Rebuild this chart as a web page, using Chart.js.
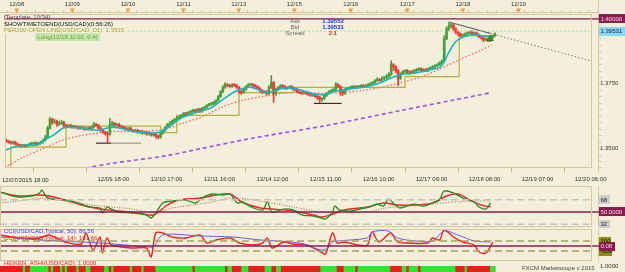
<!DOCTYPE html>
<html>
<head>
<meta charset="utf-8">
<title>USD/CAD H1</title>
<script src="https://cdn.jsdelivr.net/npm/chart.js@4.4.0/dist/chart.umd.min.js"></script>
<style>
  html, body { margin: 0; padding: 0; }
  body { width: 625px; height: 272px; background: #f4efdb; position: relative; overflow: hidden;
         font-family: "Liberation Sans", Arial, sans-serif; }
  canvas { position: absolute; left: 0; }
  .lbl { position: absolute; font-size: 6px; line-height: 7px; white-space: nowrap; }
</style>
</head>
<body>
<canvas id="mainChart" width="625" height="186" style="top:0"></canvas>
<canvas id="oscChart" width="625" height="44" style="top:184px"></canvas>
<canvas id="cciChart" width="625" height="34" style="top:228px"></canvas>
<canvas id="haChart" width="625" height="10" style="top:262px"></canvas>

<div class="lbl" style="left:4px;top:13.5px;color:#5b3a6b">[Template: 10/34]</div>
<div class="lbl" style="left:4px;top:20.5px;color:#111">SHOWTIMETOEND(USD/CAD)(0:56:26)</div>
<div class="lbl" style="left:4px;top:26.5px;color:#aaa22a;background:#f4efdb;padding-right:2px">PER200-OPEN LINE(USD/CAD, D1): 1.3935</div>
<div class="lbl" style="left:35px;top:32.5px;width:65px;height:8px;line-height:8px;background:#c6e6ae;color:#5c9c3e;text-align:center">Long(12/18 11:02, 0.4)</div>
<div class="lbl" style="left:275px;top:18px;width:40px;text-align:center;color:#666">Ask</div>
<div class="lbl" style="left:275px;top:23.5px;width:40px;text-align:center;color:#666">Bid</div>
<div class="lbl" style="left:275px;top:29.5px;width:40px;text-align:center;color:#666">Spread</div>
<div class="lbl" style="left:313px;top:18px;width:40px;text-align:center;color:#1c2cf0;font-weight:bold">1.39552</div>
<div class="lbl" style="left:313px;top:23.5px;width:40px;text-align:center;color:#1c2cf0;font-weight:bold">1.39531</div>
<div class="lbl" style="left:313px;top:29.5px;width:40px;text-align:center;color:#ee2020;font-weight:bold">2.1</div>
<div class="lbl" style="left:2px;top:176.5px;color:#333">12/07/2015 18:00</div>
<div class="lbl" style="left:4px;top:228px;color:#3a3aee">CCI(USD/CAD,Typical, 50): 86.56</div>
<div class="lbl" style="left:4px;top:235px;color:#ee2222">CCI(USD/CAD,Typical, 14): 101.66</div>
<div class="lbl" style="left:4px;top:259.5px;color:#ee2222">HEIKEN_ASHI(USD/CAD): 1.0000</div>
<div class="lbl" style="left:522px;top:264.5px;color:#444">FXCM Marketscope c 2015</div>
<div class="lbl" style="left:600px;top:262.5px;color:#333">1.0000</div>

<script>
// USD/CAD hourly candles (bar 0 = 12/07 18:00)
const firstOpen = 1.3531;
const closes = [
  1.3527,1.3523,1.3519,1.3523,1.3515, 1.3512,1.3508,1.3512,1.3508,1.3512,
  1.3515,1.3519,1.3519,1.3515,1.3519, 1.3523,1.3531,1.3542,1.3577,1.3612,
  1.3600,1.3604,1.3592,1.3596,1.3600, 1.3588,1.3585,1.3588,1.3581,1.3585,
  1.3581,1.3577,1.3581,1.3577,1.3573, 1.3577,1.3573,1.3581,1.3592,1.3588,
  1.3577,1.3569,1.3562,1.3558,1.3554, 1.3592,1.3596,1.3588,1.3592,1.3585,
  1.3581,1.3577,1.3573,1.3577,1.3569, 1.3565,1.3569,1.3562,1.3565,1.3558,
  1.3562,1.3554,1.3558,1.3550,1.3554, 1.3546,1.3542,1.3558,1.3569,1.3581,
  1.3592,1.3596,1.3604,1.3612,1.3615, 1.3619,1.3627,1.3635,1.3631,1.3638,
  1.3642,1.3646,1.3642,1.3650,1.3642, 1.3654,1.3658,1.3665,1.3669,1.3673,
  1.3673,1.3685,1.3700,1.3719,1.3735, 1.3746,1.3742,1.3738,1.3746,1.3742,
  1.3735,1.3719,1.3715,1.3727,1.3738, 1.3746,1.3746,1.3742,1.3738,1.3731,
  1.3723,1.3715,1.3719,1.3712,1.3735, 1.3754,1.3712,1.3727,1.3735,1.3742,
  1.3738,1.3731,1.3735,1.3738,1.3731, 1.3727,1.3719,1.3715,1.3712,1.3715,
  1.3712,1.3708,1.3704,1.3708,1.3700, 1.3696,1.3688,1.3692,1.3704,1.3712,
  1.3719,1.3723,1.3727,1.3746,1.3738, 1.3719,1.3712,1.3727,1.3731,1.3735,
  1.3738,1.3735,1.3738,1.3738,1.3742, 1.3738,1.3742,1.3746,1.3750,1.3754,
  1.3762,1.3765,1.3762,1.3769,1.3773, 1.3777,1.3785,1.3823,1.3815,1.3800,
  1.3769,1.3788,1.3796,1.3800,1.3792, 1.3796,1.3792,1.3800,1.3804,1.3808,
  1.3800,1.3804,1.3800,1.3808,1.3811, 1.3815,1.3819,1.3823,1.3831,1.3838,
  1.3923,1.3962,1.3973,1.3977,1.3962, 1.3950,1.3942,1.3935,1.3938,1.3942,
  1.3946,1.3950,1.3942,1.3946,1.3938, 1.3931,1.3927,1.3919,1.3923,1.3915,
  1.3927,1.3935,1.3942
];
const highs = [
  1.3535,1.3531,1.3527,1.3527,1.3527, 1.3519,1.3515,1.3515,1.3515,1.3515,
  1.3519,1.3523,1.3523,1.3523,1.3523, 1.3527,1.3535,1.3550,1.3585,1.3619,
  1.3615,1.3612,1.3608,1.3604,1.3608, 1.3604,1.3592,1.3592,1.3592,1.3588,
  1.3588,1.3585,1.3585,1.3585,1.3581, 1.3581,1.3581,1.3585,1.3600,1.3596,
  1.3592,1.3581,1.3573,1.3565,1.3562, 1.3615,1.3604,1.3600,1.3596,1.3596,
  1.3588,1.3585,1.3581,1.3581,1.3581, 1.3573,1.3573,1.3573,1.3569,1.3569,
  1.3565,1.3565,1.3562,1.3562,1.3558, 1.3558,1.3550,1.3562,1.3573,1.3585,
  1.3596,1.3604,1.3608,1.3615,1.3623, 1.3627,1.3631,1.3638,1.3638,1.3642,
  1.3646,1.3650,1.3650,1.3654,1.3654, 1.3658,1.3662,1.3669,1.3673,1.3677,
  1.3681,1.3688,1.3704,1.3723,1.3742, 1.3754,1.3750,1.3746,1.3750,1.3750,
  1.3746,1.3738,1.3723,1.3731,1.3742, 1.3750,1.3750,1.3750,1.3746,1.3742,
  1.3735,1.3727,1.3723,1.3723,1.3742, 1.3781,1.3758,1.3731,1.3738,1.3746,
  1.3746,1.3742,1.3738,1.3742,1.3742, 1.3735,1.3731,1.3723,1.3719,1.3719,
  1.3719,1.3715,1.3712,1.3712,1.3712, 1.3704,1.3700,1.3696,1.3708,1.3715,
  1.3723,1.3727,1.3731,1.3754,1.3750, 1.3742,1.3727,1.3731,1.3735,1.3738,
  1.3742,1.3742,1.3742,1.3742,1.3746, 1.3746,1.3746,1.3750,1.3754,1.3758,
  1.3765,1.3773,1.3769,1.3777,1.3777, 1.3785,1.3792,1.3838,1.3827,1.3819,
  1.3804,1.3792,1.3800,1.3804,1.3804, 1.3800,1.3800,1.3804,1.3808,1.3811,
  1.3811,1.3808,1.3808,1.3811,1.3815, 1.3819,1.3823,1.3827,1.3834,1.3842,
  1.3935,1.3969,1.3985,1.3985,1.3981, 1.3965,1.3954,1.3946,1.3942,1.3946,
  1.3950,1.3954,1.3954,1.3950,1.3950, 1.3942,1.3935,1.3931,1.3927,1.3927,
  1.3931,1.3938,1.3946
];
const lows = [
  1.3523,1.3519,1.3515,1.3515,1.3512, 1.3508,1.3504,1.3504,1.3504,1.3504,
  1.3508,1.3512,1.3515,1.3512,1.3512, 1.3515,1.3519,1.3527,1.3538,1.3573,
  1.3592,1.3596,1.3585,1.3588,1.3592, 1.3581,1.3581,1.3581,1.3577,1.3577,
  1.3577,1.3573,1.3573,1.3573,1.3569, 1.3569,1.3569,1.3569,1.3577,1.3585,
  1.3573,1.3565,1.3558,1.3550,1.3519, 1.3550,1.3588,1.3585,1.3585,1.3581,
  1.3577,1.3573,1.3569,1.3569,1.3565, 1.3562,1.3562,1.3558,1.3558,1.3554,
  1.3554,1.3550,1.3550,1.3546,1.3546, 1.3538,1.3535,1.3538,1.3554,1.3565,
  1.3577,1.3588,1.3592,1.3600,1.3608, 1.3612,1.3615,1.3623,1.3627,1.3627,
  1.3635,1.3638,1.3638,1.3638,1.3638, 1.3638,1.3650,1.3654,1.3662,1.3665,
  1.3665,1.3669,1.3681,1.3696,1.3715, 1.3731,1.3738,1.3735,1.3735,1.3738,
  1.3731,1.3712,1.3708,1.3712,1.3723, 1.3735,1.3742,1.3738,1.3735,1.3727,
  1.3719,1.3712,1.3712,1.3704,1.3708, 1.3731,1.3677,1.3704,1.3723,1.3731,
  1.3735,1.3727,1.3727,1.3731,1.3727, 1.3723,1.3715,1.3712,1.3708,1.3708,
  1.3708,1.3704,1.3700,1.3700,1.3696, 1.3688,1.3677,1.3681,1.3688,1.3700,
  1.3708,1.3715,1.3719,1.3723,1.3735, 1.3704,1.3704,1.3708,1.3723,1.3727,
  1.3731,1.3731,1.3731,1.3735,1.3735, 1.3735,1.3735,1.3738,1.3742,1.3746,
  1.3750,1.3758,1.3758,1.3758,1.3765, 1.3769,1.3773,1.3781,1.3800,1.3792,
  1.3742,1.3765,1.3785,1.3792,1.3788, 1.3788,1.3788,1.3788,1.3796,1.3800,
  1.3796,1.3796,1.3796,1.3796,1.3804, 1.3808,1.3811,1.3815,1.3819,1.3827,
  1.3834,1.3919,1.3954,1.3965,1.3954, 1.3942,1.3935,1.3931,1.3931,1.3935,
  1.3938,1.3942,1.3938,1.3938,1.3935, 1.3927,1.3923,1.3912,1.3915,1.3912,
  1.3912,1.3923,1.3931
];

// overlay lines as [bar, price]
const fastMa = [[0,1.3492],[4,1.3504],[8,1.3512],[14,1.3512],[17,1.3531],[21,1.3550],[25,1.3577],[28,1.3581],
  [34,1.3577],[40,1.3569],[46,1.3581],[50,1.3577],[57,1.3562],[64,1.3558],[67,1.3562],[72,1.3588],[77,1.3619],
  [83,1.3638],[89,1.3654],[94,1.3685],[99,1.3715],[103,1.3731],[107,1.3735],[112,1.3719],[116,1.3719],[120,1.3731],
  [125,1.3731],[129,1.3723],[135,1.3708],[139,1.3708],[143,1.3719],[148,1.3727],[155,1.3735],[159,1.3742],[163,1.3754],
  [168,1.3773],[172,1.3785],[176,1.3788],[181,1.3796],[185,1.3804],[189,1.3815],[192,1.3862],[195,1.3908],[198,1.3927],
  [202,1.3938],[207,1.3935],[211,1.3931]];
const slowMa = [[0,1.3427],[8,1.3465],[17,1.3500],[25,1.3531],[34,1.3550],[43,1.3562],[51,1.3565],[60,1.3565],
  [69,1.3573],[77,1.3596],[86,1.3623],[94,1.3658],[103,1.3685],[112,1.3700],[120,1.3712],[129,1.3715],[138,1.3712],
  [146,1.3715],[155,1.3723],[163,1.3735],[172,1.3754],[181,1.3777],[189,1.3808],[198,1.3846],[207,1.3881],[211,1.3900]];
const ma200 = [[20,1.3399],[35,1.3423],[47,1.3442],[69,1.3469],[86,1.3500],[103,1.3531],[120,1.3558],[138,1.3585],
  [151,1.3608],[172,1.3646],[194,1.3685],[211,1.3715]];
// PER200 daily open line: [start bar, open]
const dayOpen = [[0,1.3410],[2.5,1.3504],[26.5,1.3585],[67.5,1.3560],[74.5,1.3627],[101.5,1.3715],[125,1.3735],
  [173.5,1.3777],[197,1.3935],[212.5,1.3935]];
const trendLine = [[192.5,1.3988],[210.5,1.3944]];
const trendExt = [[210.5,1.3944],[254,1.3838]];
const supportLines = [[[39.5,1.3519],[46,1.3519],'#333'],[[46,1.3519],[59,1.3519],'#999'],[[134,1.3673],[146,1.3673],'#333']];
const bidPrice = 1.39531;
const alertPrice = 1.40000;
const longEntry = [210.5, 1.3923];

// oscillator panel
const oscFast = [[0,79.2],[4,74.8],[8,71.9],[14,73.4],[17,77.8],[18,82.1],[20,71.9],[22,69.0],[28,67.5],[34,63.1],
  [38,57.3],[43,55.8],[44,48.5],[46,57.3],[47,55.8],[51,49.9],[57,48.5],[63,45.5],[65,41.2],[67,48.5],[70,63.1],
  [74,66.0],[80,67.5],[84,63.1],[87,70.4],[91,76.3],[96,74.8],[99,76.3],[102,63.1],[104,64.6],[109,55.8],[113,52.9],
  [115,64.6],[117,49.9],[122,54.3],[126,52.9],[130,45.5],[135,44.1],[138,41.2],[140,39.7],[143,49.9],[144,58.7],
  [146,52.9],[151,51.4],[155,54.3],[159,57.3],[162,61.6],[165,58.7],[167,69.0],[170,60.2],[172,55.8],[178,61.6],
  [182,58.7],[186,63.1],[189,67.5],[191,80.7],[195,77.8],[199,70.4],[204,64.6],[206,57.3],[209,54.3],[211,63.1]];
const oscSlow = [[0,79.2],[8,73.4],[17,74.8],[21,73.4],[28,67.5],[35,60.2],[43,54.3],[51,51.4],[60,48.5],[66,45.5],
  [72,60.2],[77,67.5],[86,70.4],[93,74.8],[99,76.3],[104,64.6],[112,55.8],[117,54.3],[126,51.4],[135,45.5],[138,42.6],
  [142,45.5],[148,52.9],[158,57.3],[165,63.1],[171,60.2],[179,60.2],[186,63.1],[192,73.4],[197,76.3],[202,67.5],
  [207,60.2],[211,57.3]];
const oscSignal = [[0,63.1],[8,66.0],[17,70.4],[28,66.0],[43,58.7],[57,54.3],[66,48.5],[74,55.8],[83,60.2],[91,64.6],
  [100,70.4],[109,67.5],[117,63.1],[126,57.3],[138,49.9],[146,48.5],[158,49.9],[166,55.8],[176,58.7],[186,61.6],
  [195,64.6],[204,66.0],[211,66.0]];
const oscLevels = [68, 50, 32];

// CCI panel
const cci50 = [[0,180],[8,160],[17,120],[43,60],[64,-20],[66,-20],[70,220],[86,200],[100,180],[112,120],[129,60],
  [138,-80],[141,-40],[143,80],[158,160],[160,280],[167,300],[171,160],[179,100],[186,100],[191,300],[197,220],
  [204,100],[211,80]];
const cci14 = [[0,220],[8,160],[17,160],[21,220],[28,80],[35,40],[37,260],[40,-80],[43,180],[44,-140],[46,160],
  [48,20],[57,-40],[63,-40],[65,-220],[67,260],[70,260],[74,180],[80,160],[86,220],[89,60],[93,120],[99,160],
  [103,60],[109,20],[113,60],[115,160],[117,-40],[122,80],[126,40],[132,20],[138,-120],[140,-160],[143,260],
  [145,60],[148,80],[154,20],[158,20],[160,280],[163,80],[168,260],[171,80],[176,60],[184,60],[186,160],[189,120],
  [191,320],[195,180],[199,80],[204,20],[206,-120],[209,-140],[212,80]];
const cciLevels = [100, 0, -100];

// Heiken Ashi colour per bar, g = up, r = down
const haColors = ['rrrrrrrrrr','grrggggggg','grgrrrgrgr','rrrgrrrggr','rrrrrggrgr','rrrrrrgrrr','rgrrrrrggg',
  'gggggggggg','gggrgggggg','gggggggrgg','rrrrgggrrr','rrrrgggrrg','grrrrrrrrr','rrrrrrrrgg','gggggrrrgg',
  'gggrgggggg','ggggggggrr','rrrggrgggg','rggggggggg','ggggggrrrr','grrrrrrrrr','rgg'].join('');

// axis labels
const topTickBars = [5.1, 29.2, 53.3, 77.4, 101.4, 125.5, 150, 174.5, 198.6, 222.7];
const topTickText = ['12/08','12/09','12/10','12/11','12/13','12/15','12/16','12/17','12/18','12/19'];
const bottomTickBars = [1, 24, 47, 70, 93, 116, 139, 162, 185, 208, 231, 254];
const bottomTickText = ['', '', '12/09 18:00','12/10 17:00','12/11 16:00','12/14 12:00','12/15 11:00',
  '12/16 10:00','12/17 09:00','12/18 08:00','12/19 07:00','12/20 06:00'];
const priceTicks = [1.3500, 1.3750];

const xMax = 254.6;
const FRAME = '#d8c79a';
const MAROON = '#8a1c50';

Chart.defaults.font.family = '"Liberation Sans", Arial, sans-serif';
Chart.defaults.font.size = 6;
Chart.defaults.color = '#333';

const pts = arr => arr.map(([x, y]) => ({ x, y }));
const hLine = (v, x0 = 0, x1 = xMax) => [[x0, v], [x1, v]];

function drawTag(ctx, x, yc, text, bg, fg, w) {
  ctx.fillStyle = bg;
  ctx.fillRect(x, Math.round(yc - 4.5), w, 9);
  ctx.fillStyle = fg;
  ctx.font = '6px "Liberation Sans", Arial, sans-serif';
  ctx.textBaseline = 'middle';
  ctx.textAlign = 'left';
  ctx.fillText(text, x + 1.5, yc + 0.5);
}

const baseOpts = {
  responsive: false, animation: false, events: [], devicePixelRatio: 1,
  plugins: { legend: { display: false }, tooltip: { enabled: false } }
};
const rightAxis = (min, max) => ({
  position: 'right', min, max, beginAtZero: false,
  afterFit: s => { s.width = 33; },
  ticks: { display: false }, grid: { display: false }, border: { display: false }
});
const hiddenX = { type: 'linear', min: 0, max: xMax, offset: false, display: false };

// main price chart
const opens = closes.map((c, i) => i === 0 ? firstOpen : closes[i - 1]);
const candleColor = closes.map((c, i) => c >= opens[i] ? '#45a23a' : '#ff3434');

const mainDeco = {
  id: 'mainDeco',
  afterDraw(chart) {
    const { ctx, chartArea: a, scales: { x, y } } = chart;
    ctx.save();
    ctx.strokeStyle = FRAME;
    ctx.lineWidth = 1;
    ctx.strokeRect(a.left + 0.5, a.top + 0.5, a.right - a.left - 1, a.bottom - a.top - 1);
    // right price axis with small ticks
    const ax = a.right + 6.5;
    ctx.beginPath();
    ctx.moveTo(ax, 0); ctx.lineTo(ax, a.bottom + 4);
    for (let v = 1.3425; v < 1.402; v += 0.0025) {
      const py = Math.round(y.getPixelForValue(v)) + 0.5;
      ctx.moveTo(ax, py); ctx.lineTo(ax + 3, py);
    }
    // top axis ticks
    ctx.moveTo(0, a.top - 1.5); ctx.lineTo(ax, a.top - 1.5);
    for (let b = 1; b < xMax; b += 4) {
      const px = Math.round(x.getPixelForValue(b)) + 0.5;
      ctx.moveTo(px, a.top - 1.5); ctx.lineTo(px, a.top - 4);
    }
    ctx.stroke();
    // day markers on top axis
    ctx.fillStyle = '#f0a030';
    topTickBars.forEach(b => {
      const px = x.getPixelForValue(b);
      ctx.beginPath();
      ctx.moveTo(px - 2.5, 8.5); ctx.lineTo(px + 2.5, 8.5); ctx.lineTo(px, 13);
      ctx.closePath(); ctx.fill();
    });
    // line stubs into the price tags
    const yAlert = y.getPixelForValue(alertPrice);
    ctx.strokeStyle = MAROON; ctx.lineWidth = 1.4;
    ctx.beginPath(); ctx.moveTo(a.right, yAlert); ctx.lineTo(a.right + 7, yAlert); ctx.stroke();
    drawTag(ctx, a.right + 7, yAlert, alertPrice.toFixed(5), MAROON, '#f6d6e4', 26);
    drawTag(ctx, a.right + 7, y.getPixelForValue(bidPrice), bidPrice.toFixed(5), '#86d8f4', '#123', 26);
    ctx.restore();
  }
};

const lineDs = (data, color, extra = {}) => Object.assign({
  type: 'line', data: pts(data), borderColor: color, borderWidth: 1,
  pointRadius: 0, fill: false, tension: 0
}, extra);

new Chart(document.getElementById('mainChart'), {
  type: 'bar',
  data: {
    datasets: [
      lineDs(dayOpen, '#b8ae3a', { stepped: true, borderWidth: 1.2, order: 6 }),
      lineDs(ma200, '#a24ff0', { borderWidth: 1.6, borderDash: [4, 3], tension: 0.3, order: 6 }),
      lineDs(slowMa, '#ff5a5a', { borderWidth: 1.3, borderDash: [1.5, 2], tension: 0.3, order: 6 }),
      ...supportLines.map(([p0, p1, c]) => lineDs([p0, p1], c, { borderWidth: 1.2, order: 6 })),
      {
        data: highs.map((h, i) => ({ x: i + 0.5, y: [lows[i], h] })),
        backgroundColor: candleColor, barThickness: 1, grouped: false, order: 5
      },
      {
        data: closes.map((c, i) => ({ x: i + 0.5, y: [opens[i], c] })),
        backgroundColor: candleColor, barThickness: 2, minBarLength: 1, grouped: false, order: 4
      },
      lineDs(fastMa, '#17b6c6', { borderWidth: 1.6, tension: 0.35, order: 3 }),
      lineDs(hLine(alertPrice), MAROON, { borderWidth: 1.4, order: 2 }),
      lineDs(hLine(bidPrice, 50), '#a9d88e', { borderDash: [2, 2], order: 2 }),
      lineDs(trendLine, '#666', { borderWidth: 1.2, order: 2 }),
      lineDs(trendExt, '#777', { borderDash: [1.5, 2], order: 2 }),
      {
        type: 'line', data: [{ x: longEntry[0], y: longEntry[1] }], showLine: false,
        pointStyle: 'triangle', pointRadius: 3.5, pointBackgroundColor: '#3c9a2c',
        pointBorderColor: '#2a7a1c', order: 1
      }
    ]
  },
  options: Object.assign({}, baseOpts, {
    layout: { padding: 0 },
    scales: {
      x: {
        type: 'linear', position: 'bottom', min: 0, max: xMax, offset: false,
        afterFit: s => { s.height = 18; },
        afterBuildTicks: s => { s.ticks = bottomTickBars.map(v => ({ value: v })); },
        ticks: { autoSkip: false, maxRotation: 0, padding: 4, callback: (v, i) => bottomTickText[i] },
        grid: { drawOnChartArea: false, tickLength: 4, color: '#c7b78c' },
        border: { display: false }
      },
      xTop: {
        type: 'linear', position: 'top', min: 0, max: xMax, offset: false,
        afterFit: s => { s.height = 14; },
        afterBuildTicks: s => { s.ticks = topTickBars.map(v => ({ value: v })); },
        ticks: { autoSkip: false, maxRotation: 0, padding: 6, callback: (v, i) => topTickText[i] },
        grid: { display: false, drawTicks: false },
        border: { display: false }
      },
      y: {
        position: 'right', min: 1.3423, max: 1.4019, beginAtZero: false,
        afterFit: s => { s.width = 33; },
        afterBuildTicks: s => { s.ticks = priceTicks.map(v => ({ value: v })); },
        ticks: { padding: 8, callback: v => v.toFixed(4) },
        grid: { drawOnChartArea: false, drawTicks: false },
        border: { display: false }
      }
    }
  }),
  plugins: [mainDeco]
});

// decorations shared by the indicator panels
function panelDeco(id, tags) {
  return {
    id,
    afterDraw(chart) {
      const { ctx, chartArea: a, scales: { y } } = chart;
      ctx.save();
      ctx.strokeStyle = FRAME;
      ctx.lineWidth = 1;
      ctx.strokeRect(a.left + 0.5, a.top + 0.5, a.right - a.left - 1, a.bottom - a.top - 1);
      ctx.beginPath();
      ctx.moveTo(a.right + 6.5, a.top); ctx.lineTo(a.right + 6.5, a.bottom);
      ctx.stroke();
      tags.forEach(t => {
        const yc = y.getPixelForValue(t.value);
        if (t.stub) {
          ctx.strokeStyle = t.bg; ctx.lineWidth = 1.4;
          ctx.beginPath(); ctx.moveTo(a.right, yc); ctx.lineTo(a.right + 7, yc); ctx.stroke();
        }
        drawTag(ctx, a.right + 7, yc, t.text, t.bg, t.fg, t.w);
      });
      ctx.restore();
    }
  };
}

new Chart(document.getElementById('oscChart'), {
  type: 'line',
  data: {
    datasets: [
      lineDs(hLine(oscLevels[0]), '#c4c4c4', { borderWidth: 1.5, borderDash: [7, 4] }),
      lineDs(hLine(oscLevels[2]), '#c4c4c4', { borderWidth: 1.5, borderDash: [7, 4] }),
      lineDs(hLine(oscLevels[1]), MAROON, { borderWidth: 1.4 }),
      lineDs(oscSignal, '#a5804f', { borderWidth: 1.2, borderDash: [1, 1.5], tension: 0.3 }),
      lineDs(oscFast, '#1e8c1e', { borderWidth: 1.3, tension: 0.3 }),
      lineDs(oscSlow, '#ff2222', { borderWidth: 1.4, tension: 0.35 })
    ]
  },
  options: Object.assign({}, baseOpts, {
    layout: { padding: { top: 2, bottom: 1 } },
    scales: { x: hiddenX, y: rightAxis(28, 88) }
  }),
  plugins: [panelDeco('oscDeco', [
    { value: 68, text: '68', bg: '#cdcdcd', fg: '#222', w: 11 },
    { value: 32, text: '32', bg: '#cdcdcd', fg: '#222', w: 11 },
    { value: 50, text: '50.0000', bg: MAROON, fg: '#f6d6e4', w: 26, stub: true }
  ])]
});

new Chart(document.getElementById('cciChart'), {
  type: 'line',
  data: {
    datasets: [
      lineDs(hLine(cciLevels[0]), '#a4a45a', { borderWidth: 1.3, borderDash: [7, 4] }),
      lineDs(hLine(cciLevels[2]), '#a4a45a', { borderWidth: 1.3, borderDash: [7, 4] }),
      lineDs(hLine(cciLevels[1]), MAROON, { borderWidth: 1.4 }),
      lineDs(cci50, '#5f5ff5', { borderWidth: 1, tension: 0.3 }),
      lineDs(cci14, '#ff1e1e', { borderWidth: 1.4, tension: 0.3 })
    ]
  },
  options: Object.assign({}, baseOpts, {
    layout: { padding: { top: 1, bottom: 1 } },
    scales: { x: hiddenX, y: rightAxis(-300, 340) }
  }),
  plugins: [panelDeco('cciDeco', [
    { value: 100, text: '100', bg: '#8c8c14', fg: '#111', w: 12 },
    { value: -100, text: '-100', bg: '#8c8c14', fg: '#111', w: 13 },
    { value: 0, text: '0.08', bg: MAROON, fg: '#f6d6e4', w: 16, stub: true }
  ])]
});

new Chart(document.getElementById('haChart'), {
  type: 'bar',
  data: {
    datasets: [{
      data: haColors.split('').map((c, i) => ({ x: i + 0.5, y: 1 })),
      backgroundColor: haColors.split('').map(c => c === 'g' ? '#2ee62e' : '#ee1c1c'),
      barThickness: 2.6
    }]
  },
  options: Object.assign({}, baseOpts, {
    layout: { padding: { top: 4, bottom: 0 } },
    scales: { x: hiddenX, y: rightAxis(0, 1) }
  })
});
</script>
</body>
</html>
